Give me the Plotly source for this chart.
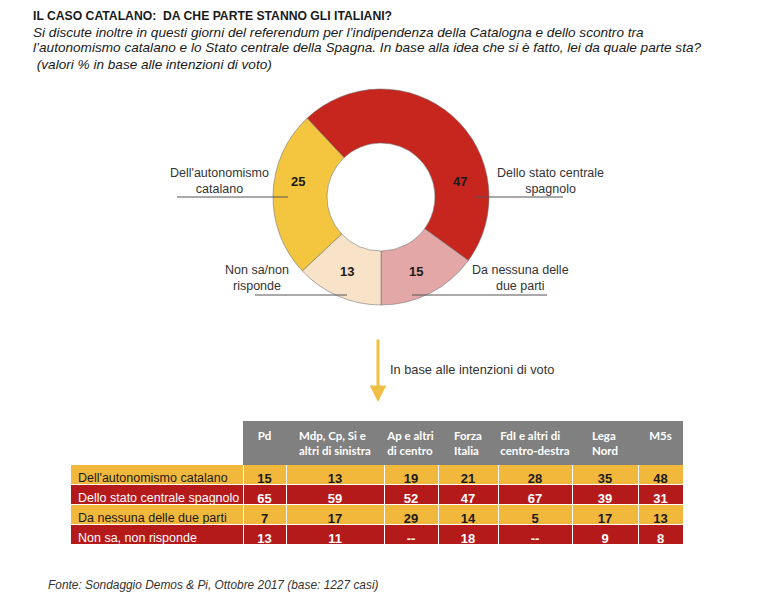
import plotly.graph_objects as go

W, H = 767, 600

# ---------------- data ----------------
donut_labels = ["Dello stato centrale spagnolo", "Da nessuna delle due parti",
                "Non sa/non risponde", "Dell'autonomismo catalano"]
donut_values = [47, 15, 13, 25]
donut_label_text = ["Dello stato centrale<br>spagnolo", "Da nessuna delle<br>due parti",
                    "Non sa/non<br>risponde", "Dell'autonomismo<br>catalano"]

table_rows = ["Dell'autonomismo catalano", "Dello stato centrale spagnolo",
              "Da nessuna delle due parti", "Non sa, non risponde"]
parties = ["Pd", "Mdp, Cp, Si e<br>altri di sinistra", "Ap e altri<br>di centro",
           "Forza<br>Italia", "FdI e altri di<br>centro-destra", "Lega<br>Nord", "M5s"]
pd_vals = [15, 65, 7, 13]
mdp_vals = [13, 59, 17, 11]
ap_vals = [19, 52, 29, None]
fi_vals = [21, 47, 14, 18]
fdi_vals = [28, 67, 5, None]
lega_vals = [35, 39, 17, 9]
m5s_vals = [48, 31, 13, 8]
party_values = [pd_vals, mdp_vals, ap_vals, fi_vals, fdi_vals, lega_vals, m5s_vals]

title = "IL CASO CATALANO:  DA CHE PARTE STANNO GLI ITALIANI?"
subtitle = ["Si discute inoltre in questi giorni del referendum per l\u2019indipendenza della Catalogna e dello scontro tra",
            "l\u2019autonomismo catalano e lo Stato centrale della Spagna. In base alla idea che si \u00e8 fatto, lei da quale parte sta?",
            " (valori % in base alle intenzioni di voto)"]
arrow_text = "In base alle intenzioni di voto"
source = "Fonte: Sondaggio Demos & Pi, Ottobre 2017 (base: 1227 casi)"

# ---------------- helpers ----------------
def px(x):
    return x / W

def py(y):
    return 1 - y / H

FONT = "Liberation Sans, Arial, sans-serif"
HFONT = "Lato, Open Sans, sans-serif"

slice_colors = ["#C7261E", "#E2A7A6", "#F8E2C8", "#F4C63F"]
yellow_row = "#F2B83C"
red_row = "#B51A1B"
gray_head = "#808080"

fig = go.Figure()

# donut
cx, cy, R = 381, 197, 108
fig.add_trace(go.Pie(
    labels=donut_labels, values=donut_values, sort=False, direction="clockwise",
    rotation=-43.2, hole=0.5, textinfo="none", hoverinfo="label+value",
    marker=dict(colors=slice_colors, line=dict(color="rgba(110,110,110,0.55)", width=1)),
    domain=dict(x=[px(cx - R), px(cx + R)], y=[py(cy + R), py(cy - R)]),
    showlegend=False,
))

# table
def fmt(v):
    return "--" if v is None else str(v)

ncol = len(parties) + 1
row_fill = [yellow_row, red_row, yellow_row, red_row]
row_font = ["#1a1a1a", "#ffffff", "#1a1a1a", "#ffffff"]
# non-breaking spaces keep each row label on one line
label_cells = [r.replace(" ", "\u00a0") for r in table_rows]
cells_values = [label_cells] + [[fmt(v) for v in col] for col in party_values]
col_widths = [173, 43, 98, 54, 60, 74, 66, 45]

fig.add_trace(go.Table(
    columnwidth=col_widths,
    domain=dict(x=[px(70), px(683)], y=[py(557), py(421)]),
    header=dict(
        values=[""] + [f"<b>{p}</b>" for p in parties],
        fill_color=["#ffffff"] + [gray_head] * len(parties),
        line=dict(color="#ffffff", width=0),
        font=dict(family=HFONT, size=11.5, color="#ffffff"),
        align="center", height=40,
    ),
    cells=dict(
        values=cells_values,
        fill_color=[row_fill] * ncol,
        line=dict(color="#ffffff", width=1),
        font=dict(family=FONT, size=[12.5] + [13] * len(parties),
                  weight=["normal"] + ["bold"] * len(parties),
                  color=[row_font] * ncol),
        align=["left"] + ["center"] * len(parties), height=20,
    ),
))

annotations = []
shapes = []

# title & subtitle
annotations.append(dict(x=px(31), y=py(16), xref="paper", yref="paper", text=f"<b>{title}</b>",
                        showarrow=False, xanchor="left", yanchor="middle",
                        font=dict(family=FONT, size=12.2, color="#1a1a1a")))
for i, line in enumerate(subtitle):
    annotations.append(dict(x=px(31), y=py(32 + 16 * i), xref="paper", yref="paper",
                            text=f"<i>{line}</i>", showarrow=False, xanchor="left", yanchor="middle",
                            font=dict(family=FONT, size=13.6, color="#1a1a1a")))

# donut value labels
val_pos = [(460, 181), (416, 271), (347, 271), (298, 181)]
for v, (x, y) in zip(donut_values, val_pos):
    annotations.append(dict(x=px(x), y=py(y), xref="paper", yref="paper", text=f"<b>{v}</b>",
                            showarrow=False, xanchor="center", yanchor="middle",
                            font=dict(family=FONT, size=13, color="#1a1a1a")))

# donut category labels with underlines
lab_pos = [(550, 181), (520, 278), (257, 278), (219, 181)]
lines = [(475, 563, 197), (412, 547, 295), (255, 347, 295), (177, 288, 197)]
for t, (x, y), (x0, x1, yl) in zip(donut_label_text, lab_pos, lines):
    annotations.append(dict(x=px(x), y=py(y), xref="paper", yref="paper", text=t,
                            showarrow=False, xanchor="center", yanchor="middle", align="center",
                            font=dict(family=FONT, size=12.5, color="#333333")))
    shapes.append(dict(type="line", xref="paper", yref="paper", x0=px(x0), x1=px(x1),
                       y0=py(yl), y1=py(yl), line=dict(color="#555555", width=1)))

# arrow
annotations.append(dict(x=px(378), y=py(402), xref="paper", yref="paper", ax=0, ay=-64,
                        axref="pixel", ayref="pixel", text="", showarrow=True,
                        arrowhead=2, arrowsize=1.1, arrowwidth=3, arrowcolor="#EFC043"))
annotations.append(dict(x=px(388), y=py(369), xref="paper", yref="paper", text=arrow_text,
                        showarrow=False, xanchor="left", yanchor="middle",
                        font=dict(family=FONT, size=12.8, color="#333333")))

# source
annotations.append(dict(x=px(46), y=py(585), xref="paper", yref="paper", text=f"<i>{source}</i>",
                        showarrow=False, xanchor="left", yanchor="middle",
                        font=dict(family=FONT, size=11.9, color="#333333")))

fig.update_layout(
    width=W, height=H, margin=dict(l=0, r=0, t=0, b=0),
    paper_bgcolor="#ffffff", plot_bgcolor="#ffffff",
    annotations=annotations, shapes=shapes, showlegend=False,
)

fig.write_html("out.html")
